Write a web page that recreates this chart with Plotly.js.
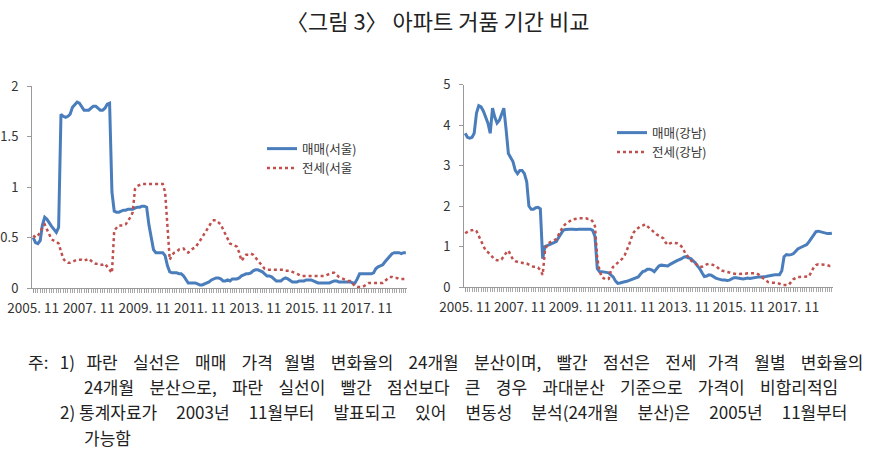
<!DOCTYPE html>
<html>
<head>
<meta charset="utf-8">
<script src="https://cdn.plot.ly/plotly-3.0.1.min.js"></script>
<style>
  html, body { margin: 0; padding: 0; background: #fff; }
  #chart { width: 875px; height: 454px; }
</style>
</head>
<body>
<div id="chart"></div>
<script>
// monthly 24-month variance, 2005.11 - 2019.04
const startYear = 2005, startMonth = 11;

const seoulSale = [
  0.50, 0.45,
  0.44, 0.47, 0.62, 0.70, 0.68, 0.64, 0.61, 0.58, 0.55, 0.60, 1.72, 1.70,
  1.69, 1.70, 1.72, 1.79, 1.82, 1.84, 1.83, 1.79, 1.76, 1.76, 1.76, 1.78,
  1.80, 1.80, 1.78, 1.76, 1.76, 1.78, 1.82, 1.83, 0.95, 0.76, 0.75, 0.75,
  0.76, 0.77, 0.77, 0.78, 0.78, 0.78, 0.79, 0.80, 0.80, 0.81, 0.81, 0.80,
  0.62, 0.47, 0.38, 0.35, 0.35, 0.35, 0.35, 0.32, 0.22, 0.16, 0.15, 0.15,
  0.15, 0.14, 0.14, 0.12, 0.08, 0.05, 0.05, 0.05, 0.05, 0.04, 0.03, 0.03,
  0.04, 0.05, 0.06, 0.08, 0.09, 0.10, 0.10, 0.09, 0.07, 0.07, 0.08, 0.07,
  0.09, 0.09, 0.09, 0.10, 0.12, 0.13, 0.14, 0.14, 0.15, 0.17, 0.18, 0.18,
  0.17, 0.16, 0.14, 0.12, 0.12, 0.11, 0.09, 0.07, 0.07, 0.07, 0.09, 0.10,
  0.09, 0.07, 0.06, 0.06, 0.06, 0.07, 0.07, 0.07, 0.08, 0.08, 0.08, 0.07,
  0.06, 0.05, 0.05, 0.05, 0.05, 0.05, 0.05, 0.06, 0.07, 0.07, 0.06, 0.06,
  0.06, 0.06, 0.06, 0.06, 0.05, 0.05, 0.09, 0.14, 0.14, 0.14, 0.14, 0.14,
  0.14, 0.15, 0.19, 0.21, 0.22, 0.23, 0.26, 0.29, 0.32, 0.34, 0.35, 0.35,
  0.35, 0.34, 0.35, 0.35
];
const seoulJeonse = [
  0.52, 0.50,
  0.52, 0.55, 0.60, 0.63, 0.58, 0.52, 0.48, 0.47, 0.46, 0.44, 0.35, 0.29,
  0.26, 0.25, 0.25, 0.26, 0.27, 0.28, 0.28, 0.28, 0.27, 0.28, 0.29, 0.27,
  0.25, 0.24, 0.24, 0.23, 0.23, 0.24, 0.21, 0.17, 0.15, 0.57, 0.60, 0.62,
  0.62, 0.62, 0.63, 0.66, 0.70, 0.75, 0.98, 1.01, 1.02, 1.03, 1.03, 1.03,
  1.03, 1.03, 1.03, 1.03, 1.03, 1.03, 1.03, 0.95, 0.60, 0.28, 0.33, 0.35,
  0.36, 0.38, 0.38, 0.39, 0.36, 0.35, 0.37, 0.39, 0.40, 0.43, 0.46, 0.50,
  0.54, 0.58, 0.62, 0.65, 0.67, 0.67, 0.65, 0.63, 0.58, 0.53, 0.48, 0.44,
  0.43, 0.42, 0.41, 0.35, 0.27, 0.30, 0.33, 0.33, 0.34, 0.33, 0.30, 0.27,
  0.24, 0.21, 0.19, 0.18, 0.18, 0.18, 0.18, 0.18, 0.18, 0.18, 0.18, 0.17,
  0.17, 0.17, 0.16, 0.15, 0.14, 0.13, 0.12, 0.12, 0.12, 0.12, 0.12, 0.12,
  0.12, 0.12, 0.12, 0.12, 0.12, 0.13, 0.14, 0.15, 0.15, 0.13, 0.11, 0.10,
  0.09, 0.08, 0.07, 0.07, 0.05, 0.02, 0.01, 0.01, 0.01, 0.02, 0.04, 0.05,
  0.05, 0.05, 0.05, 0.05, 0.05, 0.05, 0.07, 0.09, 0.11, 0.11, 0.10, 0.10,
  0.09, 0.09, 0.09, 0.09
];
const gangnamSale = [
  3.80, 3.70,
  3.68, 3.70, 3.80, 4.30, 4.48, 4.45, 4.35, 4.22, 4.05, 3.80, 4.42, 4.20,
  4.05, 4.12, 4.25, 4.42, 3.90, 3.30, 3.20, 3.10, 2.88, 2.80, 2.88, 2.88,
  2.80, 2.60, 2.00, 1.92, 1.92, 1.96, 1.97, 1.93, 0.70, 1.00, 1.02, 1.05,
  1.08, 1.10, 1.12, 1.22, 1.32, 1.40, 1.42, 1.43, 1.43, 1.43, 1.42, 1.42,
  1.43, 1.43, 1.43, 1.43, 1.43, 1.43, 1.40, 1.25, 0.45, 0.38, 0.38, 0.37,
  0.36, 0.35, 0.30, 0.25, 0.15, 0.09, 0.10, 0.12, 0.13, 0.14, 0.16, 0.18,
  0.20, 0.22, 0.25, 0.32, 0.38, 0.40, 0.44, 0.44, 0.42, 0.38, 0.44, 0.52,
  0.54, 0.53, 0.52, 0.52, 0.56, 0.60, 0.62, 0.65, 0.67, 0.70, 0.74, 0.75,
  0.72, 0.70, 0.65, 0.60, 0.52, 0.45, 0.35, 0.26, 0.27, 0.30, 0.29, 0.25,
  0.22, 0.20, 0.18, 0.17, 0.17, 0.16, 0.17, 0.20, 0.23, 0.23, 0.22, 0.20,
  0.20, 0.21, 0.22, 0.21, 0.22, 0.24, 0.25, 0.25, 0.25, 0.25, 0.26, 0.27,
  0.28, 0.30, 0.30, 0.30, 0.30, 0.40, 0.75, 0.80, 0.79, 0.80, 0.82, 0.88,
  0.94, 0.97, 1.00, 1.03, 1.05, 1.12, 1.20, 1.30, 1.37, 1.38, 1.36, 1.34,
  1.33, 1.32, 1.32, 1.33
];
const gangnamJeonse = [
  1.33, 1.37,
  1.40, 1.40, 1.42, 1.38, 1.26, 1.12, 1.00, 0.90, 0.86, 0.80, 0.72, 0.68,
  0.66, 0.66, 0.68, 0.78, 0.84, 0.90, 0.80, 0.68, 0.64, 0.62, 0.60, 0.60,
  0.58, 0.58, 0.56, 0.52, 0.50, 0.50, 0.48, 0.42, 0.30, 0.88, 1.06, 1.10,
  1.14, 1.16, 1.18, 1.30, 1.42, 1.50, 1.55, 1.60, 1.63, 1.67, 1.68, 1.70,
  1.70, 1.70, 1.70, 1.70, 1.68, 1.68, 1.62, 1.50, 0.70, 0.40, 0.24, 0.20,
  0.18, 0.20, 0.40, 0.50, 0.55, 0.60, 0.63, 0.70, 0.78, 0.90, 1.05, 1.22,
  1.35, 1.42, 1.47, 1.50, 1.52, 1.55, 1.50, 1.45, 1.40, 1.34, 1.30, 1.27,
  1.24, 1.20, 1.10, 1.04, 1.08, 1.10, 1.09, 1.08, 1.05, 1.00, 0.90, 0.80,
  0.74, 0.66, 0.62, 0.58, 0.52, 0.50, 0.50, 0.52, 0.56, 0.57, 0.56, 0.54,
  0.52, 0.47, 0.42, 0.40, 0.39, 0.38, 0.36, 0.34, 0.32, 0.32, 0.32, 0.32,
  0.32, 0.33, 0.34, 0.34, 0.34, 0.34, 0.34, 0.30, 0.26, 0.21, 0.16, 0.12,
  0.11, 0.11, 0.11, 0.10, 0.08, 0.05, 0.05, 0.05, 0.05, 0.12, 0.19, 0.22,
  0.25, 0.25, 0.25, 0.25, 0.25, 0.26, 0.38, 0.48, 0.54, 0.56, 0.56, 0.56,
  0.55, 0.54, 0.52, 0.52
];

const names = ['매매(서울)', '전세(서울', '매매(강남)', '전세(강남)'];
const titleText = '〈그림 3〉 아파트 거품 기간 비교';
const notes = [
  '주: 1) 파란 실선은 매매 가격 월별 변화율의 24개월 분산이며, 빨간 점선은 전세 가격 월별 변화율의',
  '24개월 분산으로, 파란 실선이 빨간 점선보다 큰 경우 과대분산 기준으로 가격이 비합리적임',
  '2) 통계자료가 2003년 11월부터 발표되고 있어 변동성 분석(24개월 분산)은 2005년 11월부터',
  '가능함'
];

// month strings for the category axis
const months = seoulSale.map((_, k) => {
  const m = startMonth - 1 + k;
  const y = startYear + Math.floor(m / 12);
  return `${y}-${String(m % 12 + 1).padStart(2, '0')}-01`;
});

const W = 875, H = 454;
const blue = '#4a7dbb', red = '#c0504d';
const font = '"Noto Sans CJK KR", "Noto Sans", sans-serif';

const solid = {color: blue, width: 3};
const dotted = {color: red, width: 2.5, dash: 'dot'};

const traces = [
  {x: months, y: seoulSale, name: names[0], mode: 'lines', line: solid, xaxis: 'x', yaxis: 'y', legend: 'legend'},
  {x: months, y: seoulJeonse, name: names[1], mode: 'lines', line: dotted, xaxis: 'x', yaxis: 'y', legend: 'legend'},
  {x: months, y: gangnamSale, name: names[2], mode: 'lines', line: solid, xaxis: 'x2', yaxis: 'y2', legend: 'legend2'},
  {x: months, y: gangnamJeonse, name: names[3], mode: 'lines', line: dotted, xaxis: 'x2', yaxis: 'y2', legend: 'legend2'}
];

const xBase = {
  type: 'date',
  range: ['2005-10-16', '2019-04-16'],
  tick0: '2005-11-01',
  dtick: 'M24',
  tickformat: '%Y. %m',
  showline: true, linecolor: '#9a9a9a', linewidth: 1,
  ticks: 'outside', ticklen: 4, tickcolor: '#9a9a9a',
  minor: {dtick: 'M1', ticks: 'outside', ticklen: 4, tickcolor: '#a8a8a8'},
  showgrid: false, zeroline: false,
  tickfont: {family: font, size: 13.5, color: '#333'},
  ticklabelstandoff: 4,
  fixedrange: true
};
const yBase = {
  showline: true, linecolor: '#9a9a9a', linewidth: 1,
  ticks: 'outside', ticklen: 4, tickcolor: '#9a9a9a',
  showgrid: false, zeroline: false,
  tickfont: {family: font, size: 13, color: '#333'},
  ticklabelstandoff: 6,
  fixedrange: true
};
const legendBase = {
  xref: 'paper', yref: 'paper', xanchor: 'left', yanchor: 'top',
  bgcolor: 'rgba(0,0,0,0)', font: {family: font, size: 12.5, color: '#333'},
  tracegroupgap: 0, itemwidth: 30
};

// the printed note is justified: number of spaces in each word gap
const noteGaps = [
  [3, 3, 4, 4, 4, 3, 4, 4, 4, 4, 4, 4, 3, 4, 4],
  [4, 4, 4, 4, 4, 4, 4, 4, 4, 4, 4],
  [1, 5, 5, 5, 5, 5, 5, 5, 5, 5],
  []
];
const noteFont = {family: font, size: 17, color: '#222'};
const noteX = [26, 82, 58, 82];
const noteY = [361, 386, 411, 437];

function spread(line, gaps) {
  return line.split(' ').reduce((s, w, k) =>
    k === 0 ? w : s + ' ' + '\u00A0'.repeat(gaps[k - 1] - 1) + w, '');
}

const annotations = [
  {text: titleText, x: 0.5, y: 1 - 20 / H, xanchor: 'center', yanchor: 'middle',
   font: {family: font, size: 22, color: '#222'}}
].concat(notes.map((t, k) => ({
  text: spread(t, noteGaps[k]), x: noteX[k] / W, y: 1 - noteY[k] / H,
  xanchor: 'left', yanchor: 'middle', font: noteFont
}))).map(a => Object.assign({xref: 'paper', yref: 'paper', showarrow: false}, a));

const layout = {
  width: W, height: H,
  margin: {l: 0, r: 0, t: 0, b: 0},
  paper_bgcolor: '#fff', plot_bgcolor: '#fff',
  font: {family: font},
  xaxis: Object.assign({}, xBase, {domain: [32 / W, 407 / W], anchor: 'y'}),
  yaxis: Object.assign({}, yBase, {domain: [(H - 288) / H, (H - 86) / H], range: [0, 2], dtick: 0.5, anchor: 'x'}),
  xaxis2: Object.assign({}, xBase, {domain: [464 / W, 833 / W], anchor: 'y2'}),
  yaxis2: Object.assign({}, yBase, {domain: [(H - 287) / H, (H - 84.7) / H], range: [0, 5], dtick: 1, anchor: 'x2'}),
  legend: Object.assign({}, legendBase, {x: 262 / W, y: 1 - 134 / H}),
  legend2: Object.assign({}, legendBase, {x: 612 / W, y: 1 - 118 / H}),
  annotations
};

Plotly.newPlot('chart', traces, layout, {displayModeBar: false, staticPlot: true});
</script>
</body>
</html>
